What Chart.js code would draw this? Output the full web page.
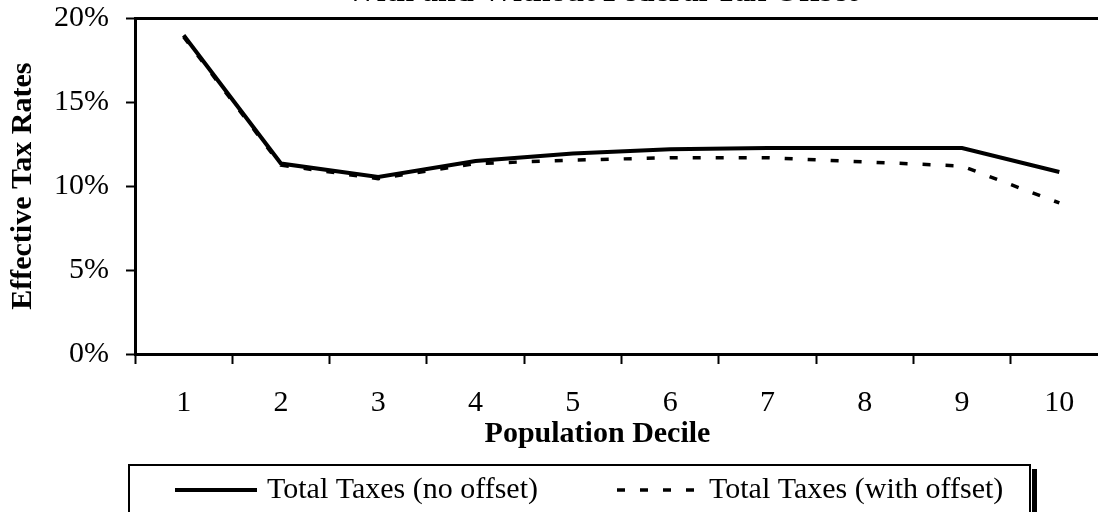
<!DOCTYPE html>
<html>
<head>
<meta charset="utf-8">
<script src="https://cdn.jsdelivr.net/npm/chart.js@4.4.1/dist/chart.umd.min.js"></script>
<style>
  html, body { margin: 0; padding: 0; background: #fff; overflow: hidden; width: 1098px; height: 512px; }
  #wrap { position: absolute; left: 0; top: -26px; width: 1120px; height: 542px; }
</style>
</head>
<body>
<div id="wrap"><canvas id="taxChart" width="1120" height="542"></canvas></div>
<script>
const deciles = ['1', '2', '3', '4', '5', '6', '7', '8', '9', '10'];
const noOffset = [19.0, 11.35, 10.55, 11.5, 11.95, 12.2, 12.27, 12.27, 12.27, 10.85];
const withOffset = [18.9, 11.25, 10.45, 11.35, 11.55, 11.7, 11.7, 11.45, 11.2, 9.0];
const yTicks = [0, 5, 10, 15, 20];
const xTitle = 'Population Decile';

const FONT = "'Liberation Serif', 'Times New Roman', serif";
Chart.defaults.font.family = FONT;
Chart.defaults.color = '#000';

// x-axis title, boxed legend with shadow (drawn by hand to match the spacing)
const decorations = {
    id: 'decorations',
    beforeDraw(chart) {
        const tb = chart.titleBlock;
        if (tb && !tb._moved) {
            tb.left -= 20;
            tb.right -= 20;
            tb._moved = true;
        }
    },
    afterDraw(chart) {
        const ctx = chart.ctx;
        const ca = chart.chartArea;
        const xs = chart.scales.x;
        ctx.save();

        ctx.fillStyle = '#000';
        ctx.font = 'bold 30px ' + FONT;
        ctx.textAlign = 'center';
        ctx.textBaseline = 'middle';
        ctx.fillText(xTitle, (ca.left + ca.right) / 2 - 24, xs.bottom - 30);

        const top = xs.bottom + 1;
        const left = ca.left - 6;
        const right = 1030;
        ctx.strokeStyle = '#000';
        ctx.lineWidth = 2;
        ctx.strokeRect(left, top, right - left, chart.height);
        ctx.fillRect(right + 2, top + 4, 5, chart.height);

        const cy = top + 25;
        let px = ca.left + 40;
        ctx.font = '30px ' + FONT;
        ctx.textAlign = 'left';
        chart.data.datasets.forEach(ds => {
            ctx.save();
            ctx.strokeStyle = ds.borderColor;
            ctx.lineWidth = ds.borderWidth;
            ctx.setLineDash(ds.borderDash || []);
            ctx.beginPath();
            ctx.moveTo(px, cy);
            ctx.lineTo(px + 82, cy);
            ctx.stroke();
            ctx.restore();
            px += 92;
            ctx.fillText(ds.label, px, cy);
            px += ctx.measureText(ds.label).width + 79;
        });
        ctx.restore();
    }
};

const ctx = document.getElementById('taxChart').getContext('2d');
new Chart(ctx, {
    type: 'line',
    data: {
        labels: deciles,
        datasets: [{
            label: 'Total Taxes (no offset)',
            data: noOffset,
            borderColor: '#000',
            backgroundColor: '#000',
            borderWidth: 4,
            pointRadius: 0,
            tension: 0,
            borderJoinStyle: 'miter'
        }, {
            label: 'Total Taxes (with offset)',
            data: withOffset,
            borderColor: '#000',
            backgroundColor: '#000',
            borderWidth: 3.5,
            borderDash: [8, 15],
            pointRadius: 0,
            tension: 0
        }]
    },
    options: {
        responsive: false,
        animation: false,
        devicePixelRatio: 1,
        layout: { padding: { left: 0, right: 12, top: 0, bottom: 52 } },
        plugins: {
            title: {
                display: true,
                text: 'With and Without Federal Tax Offset',
                fullSize: false,
                color: '#000',
                font: { size: 32, weight: 'bold' },
                padding: { top: 0, bottom: 6 }
            },
            legend: { display: false },
            tooltip: { enabled: false }
        },
        scales: {
            x: {
                offset: true,
                grid: {
                    offset: true,
                    drawOnChartArea: false,
                    tickLength: 10,
                    tickColor: '#000',
                    tickWidth: 2
                },
                border: { color: '#000', width: 3 },
                ticks: { color: '#000', font: { size: 30 }, padding: 21, maxRotation: 0 },
                afterFit: s => { s.height = 110; }
            },
            y: {
                min: yTicks[0],
                max: yTicks[yTicks.length - 1],
                afterBuildTicks: s => { s.ticks = yTicks.map(v => ({ value: v })); },
                grid: {
                    color: c => (c.tick && c.tick.value === 20 ? '#000' : 'rgba(0,0,0,0)'),
                    lineWidth: 3,
                    tickLength: 9,
                    tickColor: '#000',
                    tickWidth: 2
                },
                border: { color: '#000', width: 3 },
                ticks: {
                    color: '#000',
                    font: { size: 30 },
                    padding: 17,
                    callback: v => v + '%'
                },
                title: {
                    display: true,
                    text: 'Effective Tax Rates',
                    color: '#000',
                    font: { size: 30, weight: 'bold' },
                    padding: { top: 5, bottom: 0 }
                },
                afterFit: s => { s.width = 135; }
            }
        }
    },
    plugins: [decorations]
});
</script>
</body>
</html>
